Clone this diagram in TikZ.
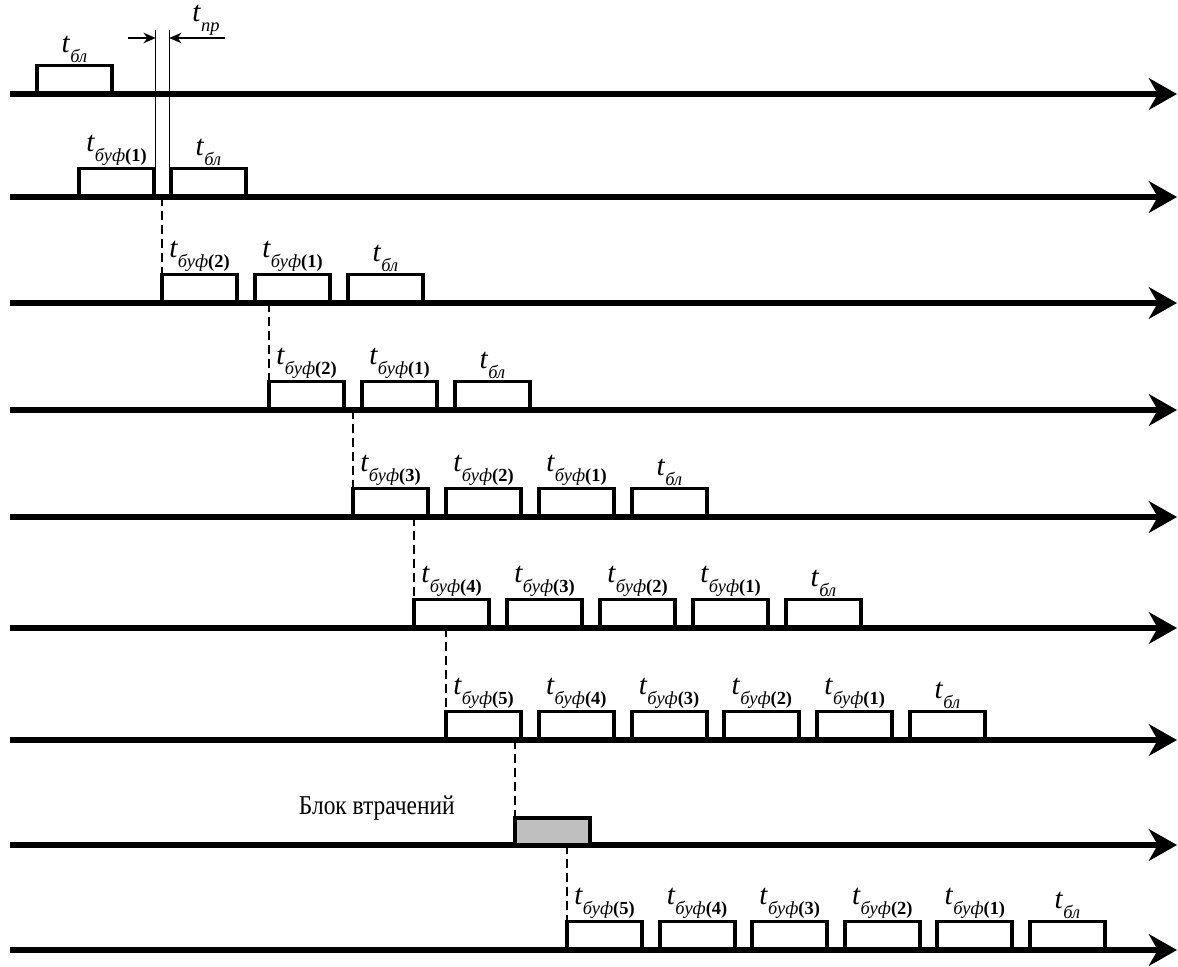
\documentclass[tikz,border=0pt]{standalone}
\usepackage{fontspec}
\setmainfont{Liberation Serif}
\usetikzlibrary{arrows.meta,positioning}

\newcommand{\tsub}[1]{\textit{t}\raisebox{-5.5pt}{\fontsize{10.5}{12}\selectfont #1}}
\newcommand{\tbl}{\tsub{\textit{бл}}}
\newcommand{\tbuf}[1]{\tsub{\textit{буф}\textbf{(#1)}}}

\tikzset{
  axis/.style={line width=3.4pt, -{Stealth[length=16pt,width=18pt,inset=5pt]}},
  slot/.style={draw, line width=2.2pt, minimum width=1.5cm, minimum height=0.57cm,
    anchor=south west, inner sep=0pt, outer sep=0pt},
  lbl/.style={font=\fontsize{16.5}{18}\selectfont, inner sep=0.5pt},
  link/.style={line width=1pt, dash pattern=on 5pt off 3pt},
  dim/.style={line width=0.8pt},
}

\begin{document}
\begin{tikzpicture}[x=0.02cm, y=-0.02cm]
\useasboundingbox (0,0) rectangle (1178,967);

% time axes
\foreach \r/\y in {1/94, 2/197, 3/303, 4/410, 5/517, 6/628, 7/740, 8/845, 9/950} {
  \coordinate (s\r) at (10,\y);
  \coordinate (e\r) at (1177,\y);
  \draw[axis] (s\r) -- (e\r);
}

% row 1
\node[slot] (b1-1) at (37,94) {};
\node[lbl, above=1pt of b1-1] (l1-1) {\tbl};

% row 2
\foreach \i/\t in {1/\tbuf{1}, 2/\tbl} {
  \node[slot] (b2-\i) at ({79+92*(\i-1)},197) {};
  \node[lbl, above=1pt of b2-\i] (l2-\i) {\t};
}

% row 3
\foreach \i/\t in {1/\tbuf{2}, 2/\tbuf{1}, 3/\tbl} {
  \node[slot] (b3-\i) at ({162+93*(\i-1)},303) {};
  \node[lbl, above=1pt of b3-\i] (l3-\i) {\t};
}

% row 4
\foreach \i/\t in {1/\tbuf{2}, 2/\tbuf{1}, 3/\tbl} {
  \node[slot] (b4-\i) at ({269+93*(\i-1)},410) {};
  \node[lbl, above=1pt of b4-\i] (l4-\i) {\t};
}

% row 5
\foreach \i/\t in {1/\tbuf{3}, 2/\tbuf{2}, 3/\tbuf{1}, 4/\tbl} {
  \node[slot] (b5-\i) at ({353+93*(\i-1)},517) {};
  \node[lbl, above=1pt of b5-\i] (l5-\i) {\t};
}

% row 6
\foreach \i/\t in {1/\tbuf{4}, 2/\tbuf{3}, 3/\tbuf{2}, 4/\tbuf{1}, 5/\tbl} {
  \node[slot] (b6-\i) at ({414+93*(\i-1)},628) {};
  \node[lbl, above=1pt of b6-\i] (l6-\i) {\t};
}

% row 7
\foreach \i/\t in {1/\tbuf{5}, 2/\tbuf{4}, 3/\tbuf{3}, 4/\tbuf{2}, 5/\tbuf{1}, 6/\tbl} {
  \node[slot] (b7-\i) at ({446+92.8*(\i-1)},740) {};
  \node[lbl, above=1pt of b7-\i] (l7-\i) {\t};
}

% row 8: lost block
\node[slot, fill=gray!50, minimum height=0.54cm] (b8-1) at (515,845) {};
\node[anchor=base east, inner sep=0pt, font=\fontsize{15.5}{17}\selectfont]
  (lost) at ([xshift=-1.2cm, yshift=0.08cm]b8-1.north west) {\scalebox{0.86}[1]{Блок втрачений}};

% row 9
\foreach \i/\t in {1/\tbuf{5}, 2/\tbuf{4}, 3/\tbuf{3}, 4/\tbuf{2}, 5/\tbuf{1}, 6/\tbl} {
  \node[slot] (b9-\i) at ({567+92.6*(\i-1)},950) {};
  \node[lbl, above=1pt of b9-\i] (l9-\i) {\t};
}

% dashed links between rows
\foreach \a/\b in {2/3, 3/4, 4/5, 5/6, 6/7, 7/8, 8/9}
  \draw[link] (b\b-1.north west |- s\a) -- (b\b-1.north west);

% t_pr
\coordinate (ceil) at (0,30);
\coordinate (lev) at (0,38);
\coordinate (pl) at ([xshift=1pt]b2-1.north east |- lev);
\coordinate (pr) at ([xshift=-1pt]b2-2.north west |- lev);
\draw[dim] ([xshift=1pt]b2-1.north east) -- ([xshift=1pt]b2-1.north east |- ceil);
\draw[dim] ([xshift=-1pt]b2-2.north west) -- ([xshift=-1pt]b2-2.north west |- ceil);
\coordinate (dl) at (128,38);
\coordinate (dr) at (225,38);
\draw[dim, -{Stealth[length=7pt,width=6pt]}] (dl) -- (pl);
\draw[dim, -{Stealth[length=7pt,width=6pt]}] (dr) -- (pr);
\node[lbl] (tpr) at (206,20) {\tsub{\textit{пр}}};
\end{tikzpicture}
\end{document}
